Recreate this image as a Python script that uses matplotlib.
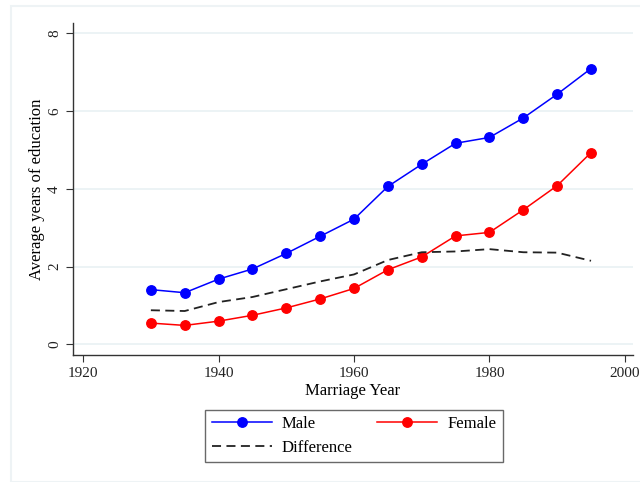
import numpy as np
import matplotlib
matplotlib.use("Agg")
import matplotlib.pyplot as plt
from matplotlib.patches import Rectangle

years = [1930, 1935, 1940, 1945, 1950, 1955, 1960, 1965, 1970, 1975, 1980, 1985, 1990, 1995]
male = [1.41, 1.33, 1.68, 1.94, 2.34, 2.78, 3.22, 4.06, 4.63, 5.17, 5.32, 5.82, 6.43, 7.09]
female = [0.55, 0.49, 0.60, 0.75, 0.94, 1.17, 1.44, 1.92, 2.25, 2.79, 2.88, 3.46, 4.08, 4.93]
difference = [0.88, 0.86, 1.09, 1.22, 1.42, 1.62, 1.80, 2.17, 2.37, 2.39, 2.45, 2.37, 2.36, 2.15]

xticks = [1920, 1940, 1960, 1980, 2000]
yticks = [0, 2, 4, 6, 8]

plt.rcParams['font.family'] = ['Liberation Serif', 'DejaVu Serif']
plt.rcParams['font.size'] = 11

fig = plt.figure(figsize=(6.4, 4.82), dpi=100)
# light frame of the graph region
fig.patches.append(Rectangle((11/640, 0), 1, 1 - 6/482, transform=fig.transFigure,
                             fill=False, edgecolor='#eef3f5', linewidth=1.5))

ax = fig.add_axes([73/640, 1 - 355/482, (633-73)/640, (355-23)/482])

ax.plot(years, male, '-o', color='blue', lw=1.1, ms=6.8, label='Male')
ax.plot(years, female, '-o', color='red', lw=1.1, ms=6.8, label='Female')
ax.plot(years, difference, '--', color='#222222', lw=1.3, dashes=(5, 3), label='Difference')

ax.set_xlim(1918.5, 2001.2)
ax.set_ylim(-0.27, 8.26)
ax.set_xticks(xticks)
ax.set_yticks(yticks)
ax.set_yticklabels([str(v) for v in yticks], rotation=90, va='center')
ax.grid(axis='y', color='#e9f1f3', lw=1.2)
ax.set_axisbelow(True)
for s in ['top', 'right']:
    ax.spines[s].set_visible(False)
for s in ['left', 'bottom']:
    ax.spines[s].set_color('#333333')
    ax.spines[s].set_linewidth(1.0)
ax.tick_params(direction='out', length=5, color='#333333', labelcolor='#222222')

ax.set_xlabel('Marriage Year', fontsize=12, labelpad=2)
ax.set_ylabel('Average years of education', fontsize=12, labelpad=2)

handles, labels = ax.get_legend_handles_labels()
order = [0, 2, 1]
leg = fig.legend([handles[i] for i in order], [labels[i] for i in order],
                 ncol=2, loc='center', bbox_to_anchor=(354/640, 1 - 436/482),
                 frameon=True, fancybox=False, edgecolor='#444444', fontsize=12,
                 handlelength=3.6, columnspacing=1.45, handletextpad=0.6,
                 borderpad=0.4, labelspacing=0.45)
leg.get_frame().set_linewidth(1.0)

fig.savefig('out.png', dpi=100)
